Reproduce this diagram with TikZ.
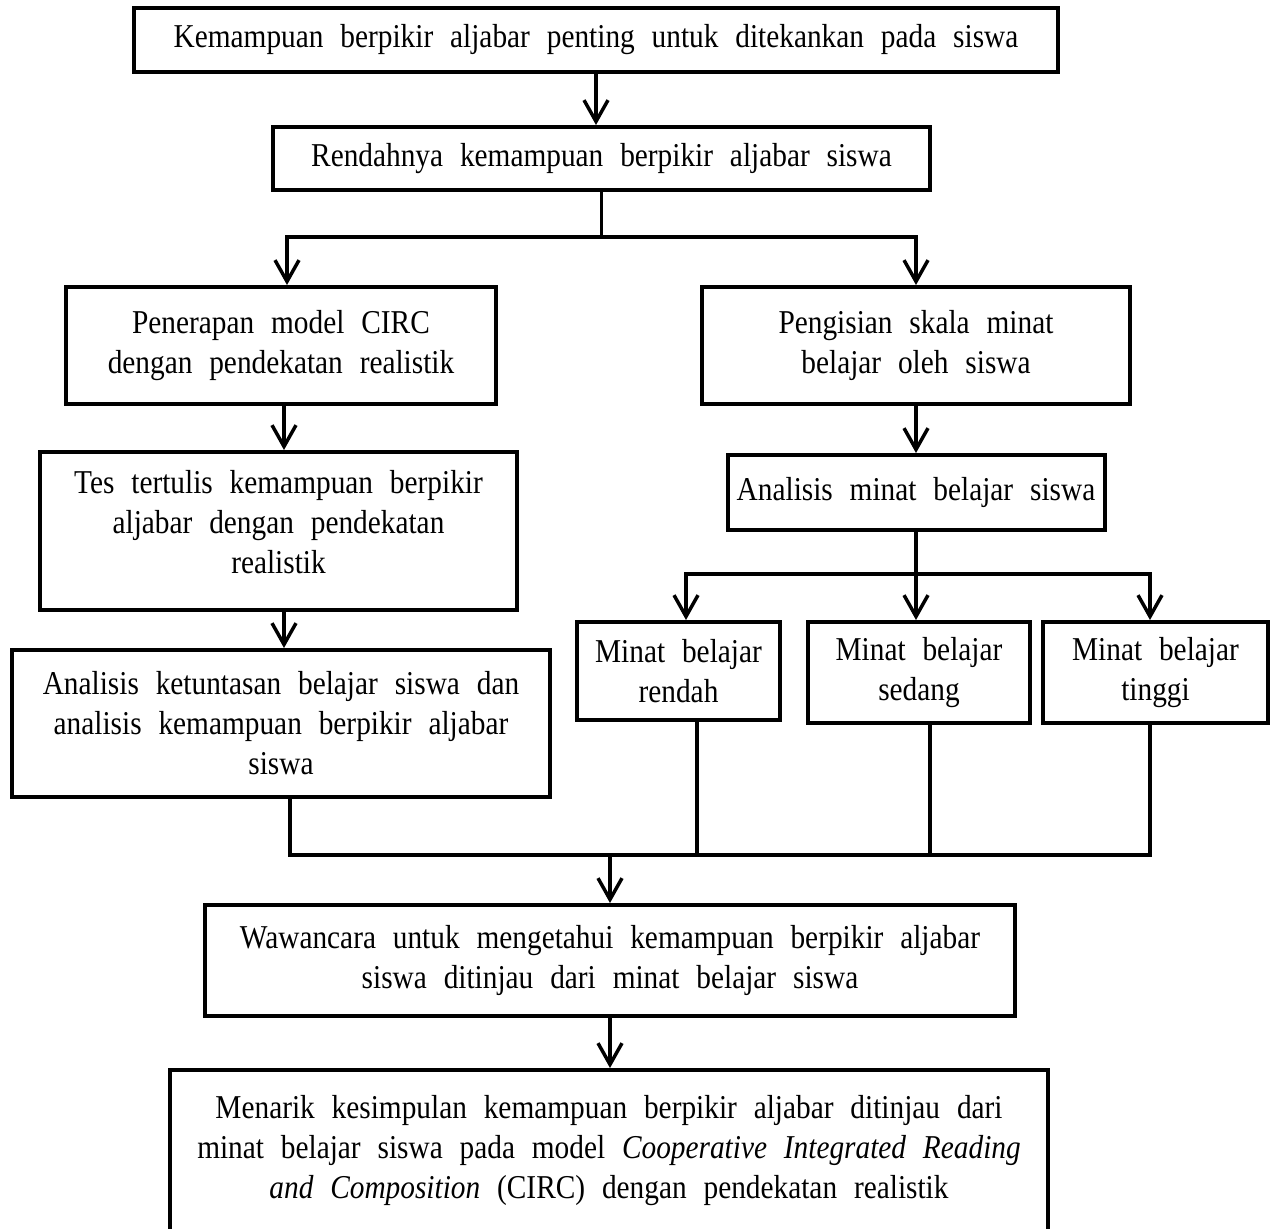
\documentclass[tikz,border=0pt]{standalone}
\usepackage{fontspec}
\setmainfont{Liberation Serif}[WordSpace=2.3, FakeStretch=0.88]
\usetikzlibrary{arrows.meta,calc}
\begin{document}
\begin{tikzpicture}[x=0.75pt,y=-0.75pt,
  box/.style={draw, line width=3pt, rectangle, inner sep=0pt, align=center,
    font=\fontsize{25}{30}\selectfont},
  conn/.style={line width=2.6pt},
  arr/.style={line width=2.6pt, -{Straight Barb[length=16pt,width=18pt,line width=2.6pt]}}]
\useasboundingbox (0,0) rectangle (1276,1228);
\clip (0,0) rectangle (1276,1228);
\fill[white] (0,0) rectangle (1276,1228);

\node[box, minimum width=693pt, minimum height=48pt] (b1) at (596,40)
  {Kemampuan berpikir aljabar penting untuk ditekankan pada siswa};
\node[box, minimum width=492.75pt, minimum height=47.25pt] (b2) at (601.5,158.5)
  {Rendahnya kemampuan berpikir aljabar siswa};
\node[box, minimum width=322.5pt, minimum height=87.75pt] (b3) at (281,345.5)
  {Penerapan model CIRC\\dengan pendekatan realistik};
\node[box, minimum width=321pt, minimum height=87.75pt] (b4) at (916,345.5)
  {Pengisian skala minat\\belajar oleh siswa};
\node[box, minimum width=357.75pt, minimum height=118.5pt] (b5) at (278.5,531) {};
\node[font=\fontsize{25}{30}\selectfont, align=center, inner sep=0pt] (t5) at (278.5,522)
  {Tes tertulis kemampuan berpikir\\aljabar dengan pendekatan\\realistik};
\node[box, minimum width=282.75pt, minimum height=56.25pt] (b6) at (916,492.5)
  {Analisis minat belajar siswa};
\node[box, minimum width=403.5pt, minimum height=110.25pt] (b7) at (281,723.5)
  {Analisis ketuntasan belajar siswa dan\\analisis kemampuan berpikir aljabar\\siswa};
\node[box, minimum width=152.25pt, minimum height=73.5pt] (b8) at (678.5,671)
  {Minat belajar\\rendah};
\node[box, minimum width=166.5pt, minimum height=75.75pt] (b9) at (919,672.5)
  {Minat belajar\\sedang};
\node[box, minimum width=168.75pt, minimum height=75.75pt] (b10) at (1155.5,672.5)
  {Minat belajar\\tinggi};
\node[box, minimum width=607.5pt, minimum height=83.25pt] (b11) at (610,960.5)
  {Wawancara untuk mengetahui kemampuan berpikir aljabar\\siswa ditinjau dari minat belajar siswa};
\node[box, minimum width=658.5pt, minimum height=121.5pt] (b12) at (609,1151)
  {Menarik kesimpulan kemampuan berpikir aljabar ditinjau dari\\minat belajar siswa pada model \textit{Cooperative Integrated Reading}\\\textit{and Composition} (CIRC) dengan pendekatan realistik};

% connectors
\draw[arr] (b1.south) -- (b1.south |- b2.north);
\coordinate (j1) at ($(b2.south)+(0,45)$);
\draw[conn] (b2.south) -- (j1);
\draw[arr] (j1) -| ($(b3.north)+(6,0)$);
\draw[arr] (j1) -| (b4.north);
\draw[arr] ($(b3.south)+(3,0)$) -- ($(b5.north)+(5.5,0)$);
\draw[arr] (b4.south) -- (b6.north);
\draw[arr] ($(b5.south)+(5.5,0)$) -- ($(b7.north)+(3,0)$);
\coordinate (j2) at ($(b6.south)+(0,42)$);
\draw[conn] (b6.south) -- (j2);
\draw[arr] (j2) -| ($(b8.north)+(7.5,0)$);
\draw[arr] (j2) -- (j2 |- b9.north);
\draw[arr] (j2) -| ($(b10.north)+(-5.5,0)$);
% merge
\coordinate (m0) at ($(b7.south)+(9,56)$);
\coordinate (m1) at ($(b10.south)+(-5.5,0)$);
\coordinate (p8) at ($(b8.south)+(18.5,0)$);
\coordinate (p9) at ($(b9.south)+(11,0)$);
\draw[conn] (b7.south -| m0) -- (m0) -- (m1 |- m0) -- (m1);
\draw[conn] (p8) -- (p8 |- m0);
\draw[conn] (p9) -- (p9 |- m0);
\draw[arr] (b11.north |- m0) -- (b11.north);
\draw[arr] (b11.south) -- (b11.south |- b12.north);
\end{tikzpicture}
\end{document}
